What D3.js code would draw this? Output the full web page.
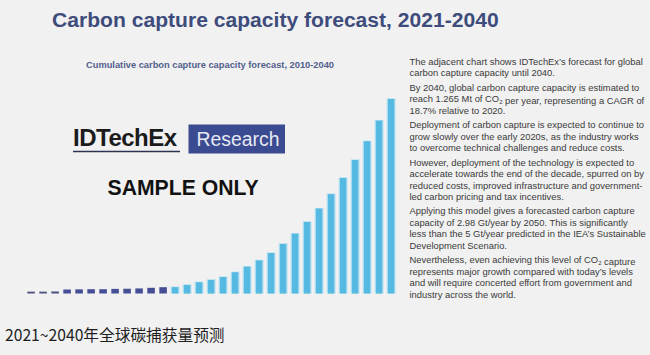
<!DOCTYPE html>
<html>
<head>
<meta charset="utf-8">
<script src="https://cdn.jsdelivr.net/npm/d3@7"></script>
<style>
  html, body { margin: 0; padding: 0; background: #f1f1f1; }
  svg { display: block; }
</style>
</head>
<body>
<svg id="chart" width="650" height="355"></svg>
<script>
// ---- data ----
const years = [2010,2011,2012,2013,2014,2015,2016,2017,2018,2019,2020,
               2021,2022,2023,2024,2025,2026,2027,2028,2029,2030,
               2031,2032,2033,2034,2035,2036,2037,2038,2039,2040];
const capacityMt = [12,12,13,26,27,28,28,30,31,33,37,
                    41,41,55,73,88,107,138,174,215,263,
                    322,389,465,552,646,751,868,990,1124,1265];
const lastHistoricalYear = 2021;

const titleText = "Carbon capture capacity forecast, 2021-2040";
const subtitleText = "Cumulative carbon capture capacity forecast, 2010-2040";
const captionText = "2021~2040年全球碳捕获量预测";
const paragraphs = [
  ["The adjacent chart shows IDTechEx\u2019s forecast for global",
   "carbon capture capacity until 2040."],
  ["By 2040, global carbon capture capacity is estimated to",
   "reach 1.265 Mt of CO_2 per year, representing a CAGR of",
   "18.7% relative to 2020."],
  ["Deployment of carbon capture is expected to continue to",
   "grow slowly over the early 2020s, as the industry works",
   "to overcome technical challenges and reduce costs."],
  ["However, deployment of the technology is expected to",
   "accelerate towards the end of the decade, spurred on by",
   "reduced costs, improved infrastructure and government-",
   "led carbon pricing and tax incentives."],
  ["Applying this model gives a forecasted carbon capture",
   "capacity of 2.98 Gt/year by 2050. This is significantly",
   "less than the 5 Gt/year predicted in the IEA\u2019s Sustainable",
   "Development Scenario."],
  ["Nevertheless, even achieving this level of CO_2 capture",
   "represents major growth compared with today\u2019s levels",
   "and will require concerted effort from government and",
   "industry across the world."]
];

// ---- drawing ----
const svg = d3.select("#chart");
const sans = "'Liberation Sans', Arial, Helvetica, sans-serif";

svg.append("rect").attr("width", 650).attr("height", 355).attr("fill", "#f1f1f1");

// title
svg.append("text")
  .attr("x", 52).attr("y", 27)
  .attr("font-family", sans).attr("font-weight", "bold").attr("font-size", 21.1)
  .attr("fill", "#3e4c7c")
  .text(titleText);

// subtitle
svg.append("text")
  .attr("x", 86).attr("y", 68)
  .attr("font-family", sans).attr("font-weight", "bold").attr("font-size", 9.3)
  .attr("fill", "#52608c")
  .text(subtitleText);

// scales
const x = d3.scaleBand()
  .domain(years)
  .range([25.1, 397.1])
  .paddingInner(0.37)
  .paddingOuter(0.185);

const baseY = 293.5;
const y = d3.scaleLinear()
  .domain([0, d3.max(capacityMt)])
  .range([baseY, 99]);

const data = years.map((yr, i) => ({ year: yr, value: capacityMt[i] }));

// halo for forecast bars
svg.append("g").selectAll("rect")
  .data(data.filter(d => d.year > lastHistoricalYear))
  .join("rect")
  .attr("x", d => x(d.year) - 0.6)
  .attr("y", d => y(d.value) - 0.6)
  .attr("width", x.bandwidth() + 1.2)
  .attr("height", d => baseY - y(d.value) + 0.6)
  .attr("fill", "#a9dcf0");

svg.append("g").selectAll("rect")
  .data(data)
  .join("rect")
  .attr("x", d => d.year > lastHistoricalYear ? x(d.year) + 0.7 : x(d.year))
  .attr("y", d => y(d.value))
  .attr("width", d => d.year > lastHistoricalYear ? x.bandwidth() - 1.4 : x.bandwidth())
  .attr("height", d => baseY - y(d.value))
  .attr("fill", d => d.year > lastHistoricalYear ? "#56b9e1" : (d.year < 2013 ? "#4c5180" : "#464f96"));

// IDTechEx watermark
svg.append("text")
  .attr("x", 73).attr("y", 146)
  .attr("font-family", sans).attr("font-weight", "bold").attr("font-size", 24)
  .attr("letter-spacing", -0.5)
  .attr("fill", "#1b1b1b")
  .text("IDTechEx");
svg.append("line")
  .attr("x1", 73).attr("x2", 180).attr("y1", 151.5).attr("y2", 151.5)
  .attr("stroke", "#2d3350").attr("stroke-width", 1.6);
svg.append("rect")
  .attr("x", 188.5).attr("y", 124.5).attr("width", 96.5).attr("height", 29)
  .attr("fill", "#3b4b92");
svg.append("text")
  .attr("x", 196.5).attr("y", 146)
  .attr("font-family", sans).attr("font-size", 19.4)
  .attr("fill", "#e6e9f2")
  .text("Research");

svg.append("text")
  .attr("x", 107.5).attr("y", 195)
  .attr("font-family", sans).attr("font-weight", "bold").attr("font-size", 21.2)
  .attr("fill", "#121212")
  .text("SAMPLE ONLY");

// right-hand paragraphs
const lineH = 11.45, paraGap = 3.0;
let yy = 65;
const tg = svg.append("g")
  .attr("font-family", sans).attr("font-size", 9.4).attr("fill", "#3a3a3a");
paragraphs.forEach(p => {
  p.forEach(line => {
    const t = tg.append("text").attr("x", 409.5).attr("y", yy);
    const parts = line.split("_2");
    parts.forEach((part, k) => {
      t.append("tspan").text(part);
      if (k < parts.length - 1) {
        t.append("tspan").attr("dy", 1.5).attr("font-size", 6).text("2");
        t.append("tspan").attr("dy", -1.5).text("");
      }
    });
    yy += lineH;
  });
  yy += paraGap;
});

// caption
svg.append("text")
  .attr("x", 5).attr("y", 341)
  .attr("font-family", "'Noto Sans CJK SC', sans-serif").attr("font-size", 15.7)
  .attr("fill", "#1e1e1e")
  .text(captionText);
</script>
</body>
</html>
